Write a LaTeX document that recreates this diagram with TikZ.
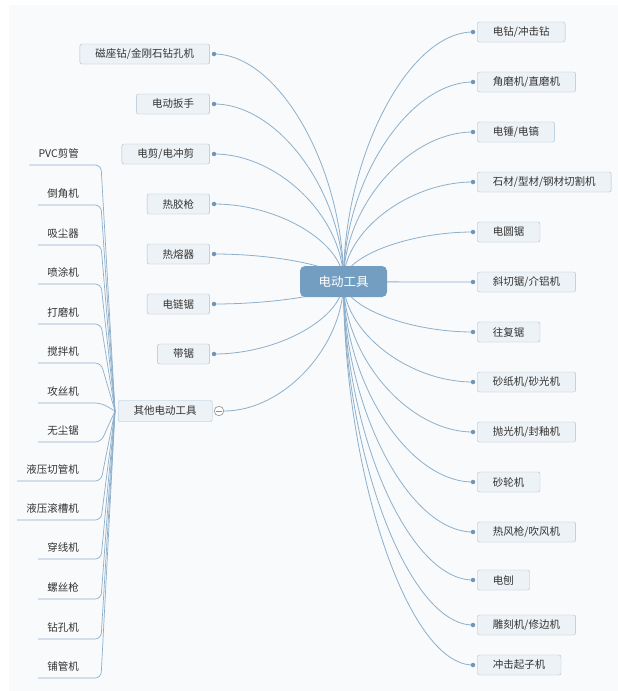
\documentclass[tikz,border=0pt]{standalone}
\usepackage{fontspec}
\setmainfont{Noto Sans CJK SC}
\usepackage{xcolor}
\usepackage{tikz}
\usetikzlibrary{positioning,calc,backgrounds}
\definecolor{panel}{HTML}{F9FAFB}
\definecolor{rootblue}{HTML}{739EC1}
\definecolor{topicfill}{HTML}{EDF2F6}
\definecolor{topicline}{HTML}{A7C0D4}
\definecolor{linkblue}{HTML}{8DAFCB}
\definecolor{dotblue}{HTML}{6D96B9}
\definecolor{ink}{HTML}{333333}
\pgfdeclarelayer{links}
\pgfsetlayers{background,links,main}
\tikzset{
    root/.style={rectangle, rounded corners=5pt, fill=rootblue, text=white, minimum width=87pt, minimum height=31pt, font=\fontsize{12.5}{14}\selectfont},
    topic/.style={rectangle, draw=topicline, fill=topicfill, rounded corners=2pt, minimum height=20pt, inner xsep=15.5pt, font=\fontsize{10.5}{12}\selectfont, text=ink},
    sub/.style={rectangle, inner xsep=9pt, minimum height=22pt, font=\fontsize{10.5}{12}\selectfont, text=ink},
    dot/.style={circle, fill=dotblue, inner sep=0, minimum size=4.5pt},
    fold/.style={circle, draw=gray!80, line width=0.7pt, fill=white, inner sep=0, minimum size=9.5pt,
        path picture={\draw[gray!90, line width=0.7pt] ([xshift=2pt]path picture bounding box.west) -- ([xshift=-2pt]path picture bounding box.east);}},
    link/.style={draw=linkblue, line width=0.8pt},
    branch/.style={to path={.. controls ($(\tikztostart)!0.5!(\tikztostart|-\tikztotarget)$) and ($(\tikztotarget)!0.5!(\tikztostart|-\tikztotarget)$) .. (\tikztotarget)}},
    twig/.style={draw=linkblue, line width=0.7pt, rounded corners=6pt},
}

\begin{document}
\begin{tikzpicture}[x=1pt, y=-1pt]
    \useasboundingbox (0,0) rectangle (618,691);
    \begin{scope}[on background layer]
        \fill[white] (0,0) rectangle (618,691);
        \fill[panel] (9,5) rectangle (618,691);
    \end{scope}

    \node[root] (root) at (343.5,281.5) {电动工具};

    % right side
    \node[dot] (rd1) at (473,32) {};
    \node[dot] (rd2) at (473,82) {};
    \node[dot] (rd3) at (473,132) {};
    \node[dot] (rd4) at (473,182) {};
    \node[dot] (rd5) at (473,232) {};
    \node[dot] (rd6) at (473,282) {};
    \node[dot] (rd7) at (473,332) {};
    \node[dot] (rd8) at (473,382) {};
    \node[dot] (rd9) at (473,432) {};
    \node[dot] (rd10) at (473,482) {};
    \node[dot] (rd11) at (473,532) {};
    \node[dot] (rd12) at (473,580) {};
    \node[dot] (rd13) at (473,625) {};
    \node[dot] (rd14) at (473,665) {};
    \node[topic, right=1.8pt of rd1] (drill) {电钻/冲击钻};
    \node[topic, right=1.8pt of rd2] (grinder) {角磨机/直磨机};
    \node[topic, right=1.8pt of rd3] (hammer) {电锤/电镐};
    \node[topic, right=1.8pt of rd4] (cutter) {石材/型材/钢材切割机};
    \node[topic, right=1.8pt of rd5] (circsaw) {电圆锯};
    \node[topic, right=1.8pt of rd6] (mitre) {斜切锯/介铝机};
    \node[topic, right=1.8pt of rd7] (recip) {往复锯};
    \node[topic, right=1.8pt of rd8] (sander) {砂纸机/砂光机};
    \node[topic, right=1.8pt of rd9] (polish) {抛光机/封釉机};
    \node[topic, right=1.8pt of rd10] (wheel) {砂轮机};
    \node[topic, right=1.8pt of rd11] (heatgun) {热风枪/吹风机};
    \node[topic, right=1.8pt of rd12] (planer) {电刨};
    \node[topic, right=1.8pt of rd13] (router) {雕刻机/修边机};
    \node[topic, right=1.8pt of rd14] (impact) {冲击起子机};

    % left side
    \node[dot] (ld1) at (214,54) {};
    \node[dot] (ld2) at (214,104) {};
    \node[dot] (ld3) at (214,154) {};
    \node[dot] (ld4) at (214,204) {};
    \node[dot] (ld5) at (214,254) {};
    \node[dot] (ld6) at (214,304) {};
    \node[dot] (ld7) at (214,354) {};
    \node[topic, left=1.8pt of ld1] (magdrill) {磁座钻/金刚石钻孔机};
    \node[topic, left=1.8pt of ld2] (wrench) {电动扳手};
    \node[topic, left=1.8pt of ld3] (shear) {电剪/电冲剪};
    \node[topic, left=1.8pt of ld4] (gluegun) {热胶枪};
    \node[topic, left=1.8pt of ld5] (fuser) {热熔器};
    \node[topic, left=1.8pt of ld6] (chainsaw) {电链锯};
    \node[topic, left=1.8pt of ld7] (bandsaw) {带锯};
    \node[fold] (fold) at (219,411) {};
    \node[topic, minimum height=21pt, left=1.5pt of fold] (other) {其他电动工具};

    % other tools
    \coordinate (kink) at (101,0);
    \coordinate (join) at ([xshift=-3pt]other.west);
    \node[sub, anchor=south east] (pvc) at (88,165) {PVC剪管};
    \node[sub, anchor=south east] (chamfer) at (88,205) {倒角机};
    \node[sub, anchor=south east] (vacuum) at (88,245) {吸尘器};
    \node[sub, anchor=south east] (sprayer) at (88,284) {喷涂机};
    \node[sub, anchor=south east] (buffer) at (88,324) {打磨机};
    \node[sub, anchor=south east] (mixer) at (88,363) {搅拌机};
    \node[sub, anchor=south east] (tapper) at (88,403) {攻丝机};
    \node[sub, anchor=south east] (dustless) at (88,442) {无尘锯};
    \node[sub, anchor=south east] (pipecut) at (88,481) {液压切管机};
    \node[sub, anchor=south east] (groover) at (88,520) {液压滚槽机};
    \node[sub, anchor=south east] (threader) at (88,559) {穿线机};
    \node[sub, anchor=south east] (screwgun) at (88,599) {螺丝枪};
    \node[sub, anchor=south east] (driller) at (88,639) {钻孔机};
    \node[sub, anchor=south east] (piper) at (88,678) {铺管机};

    \begin{pgfonlayer}{links}
        \draw[link] (root.center) to[branch] (rd1.center);
        \draw[link] (root.center) to[branch] (rd2.center);
        \draw[link] (root.center) to[branch] (rd3.center);
        \draw[link] (root.center) to[branch] (rd4.center);
        \draw[link] (root.center) to[branch] (rd5.center);
        \draw[link] (root.center) to[branch] (rd6.center);
        \draw[link] (root.center) to[branch] (rd7.center);
        \draw[link] (root.center) to[branch] (rd8.center);
        \draw[link] (root.center) to[branch] (rd9.center);
        \draw[link] (root.center) to[branch] (rd10.center);
        \draw[link] (root.center) to[branch] (rd11.center);
        \draw[link] (root.center) to[branch] (rd12.center);
        \draw[link] (root.center) to[branch] (rd13.center);
        \draw[link] (root.center) to[branch] (rd14.center);
        \draw[link] (root.center) to[branch] (ld1.center);
        \draw[link] (root.center) to[branch] (ld2.center);
        \draw[link] (root.center) to[branch] (ld3.center);
        \draw[link] (root.center) to[branch] (ld4.center);
        \draw[link] (root.center) to[branch] (ld5.center);
        \draw[link] (root.center) to[branch] (ld6.center);
        \draw[link] (root.center) to[branch] (ld7.center);
        \draw[link] (root.center) to[branch] (fold.east);

        \draw[twig] (pvc.south west) -- (pvc.south east) -- (pvc.south east -| kink) -- (join);
        \draw[twig] (chamfer.south west) -- (chamfer.south east) -- (chamfer.south east -| kink) -- (join);
        \draw[twig] (vacuum.south west) -- (vacuum.south east) -- (vacuum.south east -| kink) -- (join);
        \draw[twig] (sprayer.south west) -- (sprayer.south east) -- (sprayer.south east -| kink) -- (join);
        \draw[twig] (buffer.south west) -- (buffer.south east) -- (buffer.south east -| kink) -- (join);
        \draw[twig] (mixer.south west) -- (mixer.south east) -- (mixer.south east -| kink) -- (join);
        \draw[twig] (tapper.south west) -- (tapper.south east) -- (tapper.south east -| kink) -- (join);
        \draw[twig] (dustless.south west) -- (dustless.south east) -- (dustless.south east -| kink) -- (join);
        \draw[twig] (pipecut.south west) -- (pipecut.south east) -- (pipecut.south east -| kink) -- (join);
        \draw[twig] (groover.south west) -- (groover.south east) -- (groover.south east -| kink) -- (join);
        \draw[twig] (threader.south west) -- (threader.south east) -- (threader.south east -| kink) -- (join);
        \draw[twig] (screwgun.south west) -- (screwgun.south east) -- (screwgun.south east -| kink) -- (join);
        \draw[twig] (driller.south west) -- (driller.south east) -- (driller.south east -| kink) -- (join);
        \draw[twig] (piper.south west) -- (piper.south east) -- (piper.south east -| kink) -- (join);
    \end{pgfonlayer}
\end{tikzpicture}
\end{document}
